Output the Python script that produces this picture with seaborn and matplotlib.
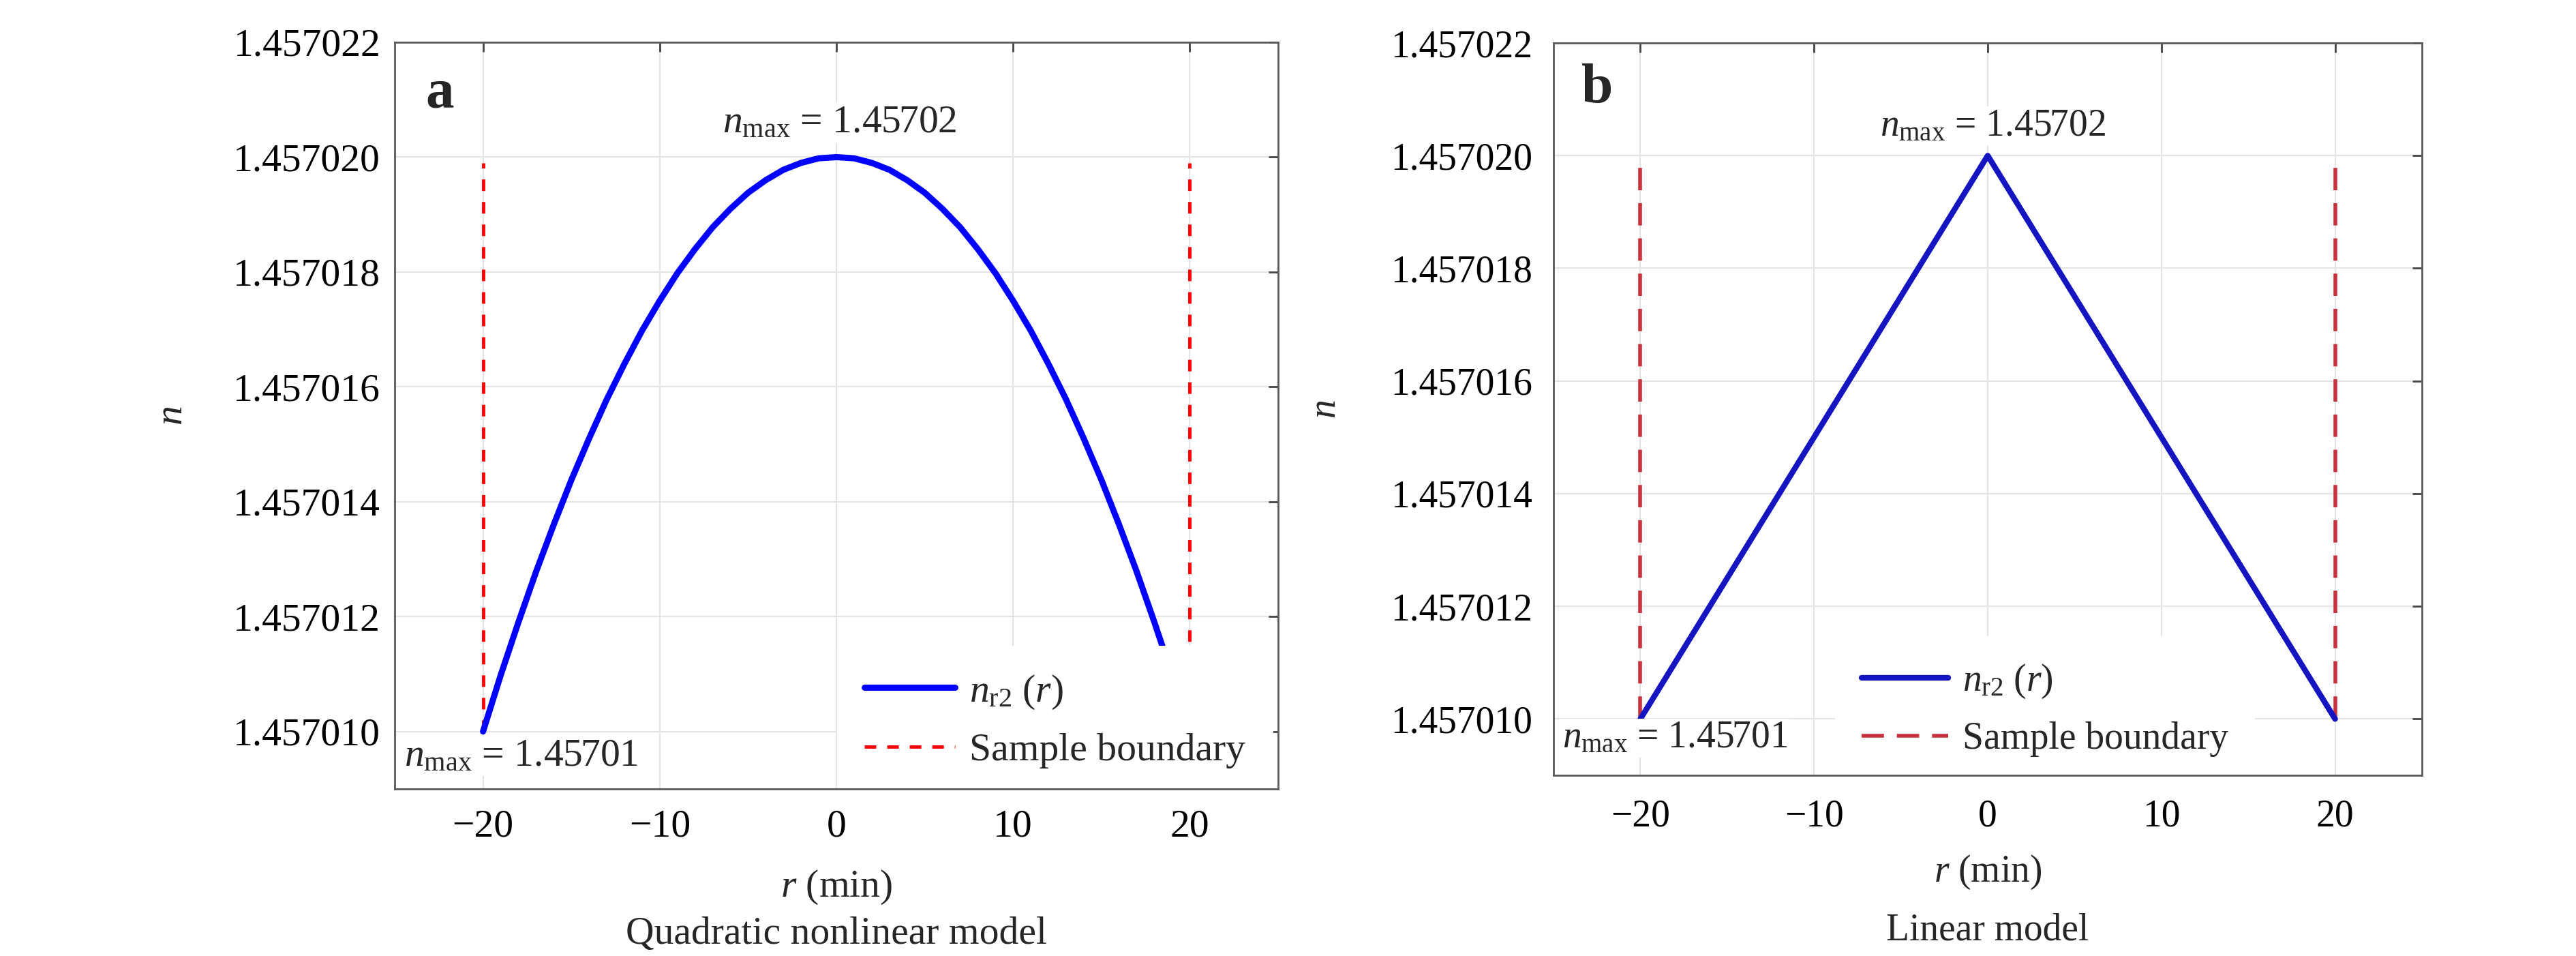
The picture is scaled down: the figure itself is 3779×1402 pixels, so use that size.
import matplotlib
matplotlib.use("Agg")
import matplotlib.pyplot as plt
import matplotlib.ticker as mticker
import seaborn as sns

# ---------------------------------------------------------------
# Data
# ---------------------------------------------------------------
R_QUAD = [-20, -19, -18, -17, -16, -15, -14, -13, -12, -11, -10,
          -9, -8, -7, -6, -5, -4, -3, -2, -1, 0,
          1, 2, 3, 4, 5, 6, 7, 8, 9, 10,
          11, 12, 13, 14, 15, 16, 17, 18, 19, 20]
N_QUAD_HALF = [1.45701000, 1.45701098, 1.45701190, 1.45701278, 1.45701360,
               1.45701438, 1.45701510, 1.45701578, 1.45701640, 1.45701698,
               1.45701750, 1.45701798, 1.45701840, 1.45701878, 1.45701910,
               1.45701938, 1.45701960, 1.45701978, 1.45701990, 1.45701998]
N_PEAK = 1.45702000
N_QUAD = N_QUAD_HALF + [N_PEAK] + N_QUAD_HALF[::-1]

R_LIN = [-20, 0, 20]
N_LIN = [1.457010, 1.457020, 1.457010]

BOUNDARY_R = [-20, 20]
BOUNDARY_N = [1.457010, 1.4570199]

X_TICKS = [-20, -10, 0, 10, 20]
Y_TICKS = [1.457010, 1.457012, 1.457014, 1.457016, 1.457018, 1.457020, 1.457022]

N_MAX_TOP = "1.45702"
N_MAX_BOTTOM = "1.45701"

# ---------------------------------------------------------------
# Style
# ---------------------------------------------------------------
sns.set_theme(style="whitegrid")
plt.rcParams.update({
    "font.family": ["Liberation Serif", "DejaVu Serif"],
    "mathtext.fontset": "custom",
    "mathtext.rm": "Liberation Serif",
    "mathtext.it": "Liberation Serif:italic",
    "mathtext.bf": "Liberation Serif:bold",
    "figure.facecolor": "white",
    "axes.facecolor": "white",
    "axes.edgecolor": "#5a5a5a",
    "axes.linewidth": 2.0,
    "grid.color": "#e4e4e4",
    "grid.linewidth": 1.5,
})


def draw_panel(ax, r, n, letter, subtitle, cfg):
    fs = cfg["fs"]
    ax.set_xlim(-25, 25)
    ax.set_ylim(1.457009, 1.457022)

    sns.lineplot(x=r, y=n, ax=ax, color=cfg["blue"], linewidth=cfg["blue_lw"],
                 sort=False, estimator=None, zorder=3)
    curve = ax.get_lines()[-1]
    bound = None
    for xb in BOUNDARY_R:
        bound, = ax.plot([xb, xb], BOUNDARY_N, color=cfg["red"],
                         linewidth=cfg["red_lw"], dashes=cfg["dashes"], zorder=2)

    ax.xaxis.set_major_locator(mticker.FixedLocator(X_TICKS))
    ax.yaxis.set_major_locator(mticker.FixedLocator(Y_TICKS))
    ax.yaxis.set_major_formatter(mticker.FormatStrFormatter("%.6f"))
    ax.tick_params(direction="in", top=True, right=True, length=10, width=2,
                   color="#444444", labelsize=fs, labelcolor="black")
    ax.tick_params(axis="y", pad=cfg["ypad"])
    ax.tick_params(axis="x", pad=cfg["xpad"])
    ax.grid(True, zorder=0)
    for s in ax.spines.values():
        s.set_zorder(6)

    ax.set_ylabel(r"$n$", fontsize=fs)
    ax.yaxis.set_label_coords(cfg["ylab_x"], 0.5)
    ax.yaxis.label.set_va("center")
    ax.set_xlabel("")
    ax.text(0.5, cfg["xlab_y"], r"$r$ (min)", transform=ax.transAxes,
            ha="center", va="center", fontsize=fs)
    ax.text(0.5, cfg["sub_y"], subtitle, transform=ax.transAxes,
            ha="center", va="center", fontsize=fs)

    ax.text(cfg["letter_xy"][0], cfg["letter_xy"][1], letter, transform=ax.transAxes,
            ha="center", va="center", fontsize=60, fontweight="bold")

    box = dict(facecolor="white", edgecolor="none", pad=2)
    ax.text(cfg["top_xy"][0], cfg["top_xy"][1], r"$n_{\rm max}$ = " + N_MAX_TOP,
            ha="center", va="center", fontsize=fs, bbox=box, zorder=4)
    ax.text(cfg["bot_xy"][0], cfg["bot_xy"][1], r"$n_{\rm max}$ = " + N_MAX_BOTTOM,
            ha="left", va="center", fontsize=fs, bbox=box, zorder=4)

    leg = ax.legend([curve, bound], [r"$n_{\rm r2}\ (r)$", "Sample boundary"],
                    loc="upper left", bbox_to_anchor=cfg["leg_anchor"],
                    fontsize=fs, handlelength=2.3, handletextpad=0.37,
                    labelspacing=0.56, borderpad=0.7, borderaxespad=0,
                    frameon=True, fancybox=False, framealpha=1.0)
    leg.get_frame().set_facecolor("white")
    leg.get_frame().set_edgecolor("none")
    leg.set_zorder(5)


fig = plt.figure(figsize=(37.8, 14.02), dpi=100)
ax_a = fig.add_axes([579 / 3780, 1 - 1157 / 1402, 1296 / 3780, 1095 / 1402])
ax_b = fig.add_axes([2279 / 3780, 1 - 1137 / 1402, 1274 / 3780, 1074 / 1402])

draw_panel(ax_a, R_QUAD, N_QUAD, "a", "Quadratic nonlinear model", {
    "fs": 41.5,
    "blue": "#0000ff", "blue_lw": 6.5, "red": "#ff0000", "red_lw": 3.5,
    "dashes": (3.5, 3.3), "ypad": 15, "xpad": 21.5,
    "ylab_x": -0.2515, "xlab_y": -0.1315, "sub_y": -0.1945,
    "letter_xy": (0.051, 0.9306),
    "top_xy": (0.2, 1.4570206), "bot_xy": (-24.45, 1.45700957),
    "leg_anchor": (0.5008, 0.1918),
})
draw_panel(ax_b, R_LIN, N_LIN, "b", "Linear model", {
    "fs": 40,
    "blue": "#1414c0", "blue_lw": 6.0, "red": "#c8323c", "red_lw": 4.0,
    "dashes": (5.9, 3.4), "ypad": 22, "xpad": 25,
    "ylab_x": -0.262, "xlab_y": -0.1322, "sub_y": -0.2114,
    "letter_xy": (0.050, 0.9376),
    "top_xy": (0.3, 1.45702052), "bot_xy": (-24.5, 1.45700966),
    "leg_anchor": (0.324, 0.190),
})

fig.savefig("out.png", dpi=100)
